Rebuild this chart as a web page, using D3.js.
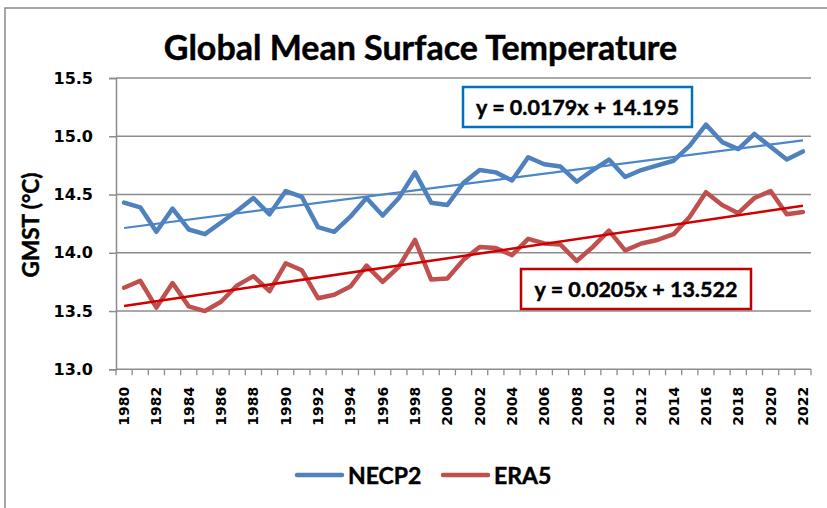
<!DOCTYPE html>
<html>
<head>
<meta charset="utf-8">
<script src="https://cdn.jsdelivr.net/npm/d3@7"></script>
<style>
  body { margin: 0; background: #fff; }
  text { font-family: Lato, "Open Sans", sans-serif; font-weight: bold; fill: #000; }
  text.heavy { stroke: #000; stroke-width: 0.45px; }
  text.num { font-family: "DejaVu Sans", sans-serif; font-weight: bold; }
</style>
</head>
<body>
<svg id="chart" width="827" height="508"></svg>
<script>
// Annual global mean surface temperature (°C), two reanalyses
const years = d3.range(1980, 2023);
const necp2 = [14.43, 14.39, 14.18, 14.38, 14.20, 14.16, 14.26, 14.36, 14.47, 14.33,
               14.53, 14.48, 14.22, 14.18, 14.31, 14.47, 14.32, 14.47, 14.69, 14.43,
               14.41, 14.60, 14.71, 14.69, 14.62, 14.82, 14.76, 14.74, 14.61, 14.71,
               14.80, 14.65, 14.71, 14.75, 14.79, 14.92, 15.10, 14.95, 14.89, 15.02,
               14.91, 14.80, 14.87];
const era5  = [13.70, 13.76, 13.53, 13.74, 13.54, 13.50, 13.58, 13.72, 13.80, 13.67,
               13.91, 13.85, 13.61, 13.64, 13.71, 13.89, 13.75, 13.88, 14.11, 13.77,
               13.78, 13.94, 14.05, 14.04, 13.98, 14.12, 14.08, 14.07, 13.93, 14.05,
               14.19, 14.02, 14.08, 14.11, 14.16, 14.31, 14.52, 14.41, 14.34, 14.47,
               14.53, 14.33, 14.35];
const seriesNames = ["NECP2", "ERA5"];
// Linear trend y = slope * x + intercept, x = 1 for the first year
const trendSlopes = [0.0179, 0.0205];
const trendIntercepts = [14.195, 13.522];
const trendLabels = ["y = 0.0179x + 14.195", "y = 0.0205x + 13.522"];
const yTicks = [13.0, 13.5, 14.0, 14.5, 15.0, 15.5];
const xTickYears = years.filter(y => y % 2 === 0);

const lineColors = ["#4F81BD", "#C0504D"];
const trendColors = ["#4A86C8", "#D00000"];
const boxColors = ["#0070C0", "#C00000"];
const gridColor = "#8C8C8C";

const svg = d3.select("#chart");

// outer chart frame
svg.append("rect")
  .attr("x", 5).attr("y", 8).attr("width", 840).attr("height", 520)
  .attr("fill", "#fff").attr("stroke", "#8A8A8A").attr("stroke-width", 1.5);

const plot = { left: 116, right: 811, top: 78, bottom: 369.3 };

const x = d3.scaleBand().domain(years).range([plot.left, plot.right]).padding(0);
const y = d3.scaleLinear().domain([13, 15.5]).range([plot.bottom, plot.top]);
const cx = yr => x(yr) + x.bandwidth() / 2;

// horizontal gridlines
svg.append("g").selectAll("line").data(yTicks.slice(1)).join("line")
  .attr("x1", plot.left).attr("x2", plot.right)
  .attr("y1", d => y(d)).attr("y2", d => y(d))
  .attr("stroke", gridColor).attr("stroke-width", 1.5);

// y axis
const yAxis = svg.append("g").attr("transform", `translate(${plot.left},0)`)
  .call(d3.axisLeft(y).tickValues(yTicks).tickFormat(d3.format(".1f")).tickSize(7).tickPadding(16));
yAxis.select(".domain").attr("stroke", gridColor).attr("stroke-width", 1.5);
yAxis.selectAll(".tick line").attr("stroke", gridColor).attr("stroke-width", 1.5);
yAxis.selectAll(".tick text").attr("class", "num")
  .attr("font-size", 16).attr("font-family", null).attr("fill", "#000");

// x axis: ticks sit on category boundaries
const xAxisG = svg.append("g").attr("transform", `translate(0,${plot.bottom})`);
xAxisG.append("line").attr("x1", plot.left).attr("x2", plot.right)
  .attr("stroke", gridColor).attr("stroke-width", 1.5);
const boundaries = years.map(yr => x(yr)).concat([plot.right]);
xAxisG.selectAll("line.tk").data(boundaries).join("line").attr("class", "tk")
  .attr("x1", d => d).attr("x2", d => d).attr("y1", 0).attr("y2", 6)
  .attr("stroke", gridColor).attr("stroke-width", 1.3);
xAxisG.selectAll("text").data(xTickYears).join("text")
  .attr("class", "num")
  .attr("transform", d => `translate(${cx(d) + 5},17.5) rotate(-90)`)
  .attr("text-anchor", "end")
  .attr("font-size", 14)
  .text(d => d);

// data lines
const seriesData = [necp2, era5];
const line = d3.line().x((d, i) => cx(years[i])).y(d => y(d));
seriesData.forEach((vals, s) => {
  svg.append("path").datum(vals)
    .attr("d", line)
    .attr("fill", "none").attr("stroke", lineColors[s])
    .attr("stroke-width", 4.5).attr("stroke-linejoin", "round").attr("stroke-linecap", "round");
});

// trend lines
seriesData.forEach((vals, s) => {
  const pts = [0, years.length - 1].map(i => [cx(years[i]), y(trendSlopes[s] * (i + 1) + trendIntercepts[s])]);
  svg.append("path").attr("d", d3.line()(pts))
    .attr("fill", "none").attr("stroke", trendColors[s]).attr("stroke-width", s === 0 ? 2.2 : 2.5);
});

// trend equation boxes
const eqBoxes = [
  { x: 463, y: 87, w: 229, h: 40 },
  { x: 521, y: 269, w: 230, h: 40 }
];
eqBoxes.forEach((b, s) => {
  svg.append("rect").attr("x", b.x).attr("y", b.y).attr("width", b.w).attr("height", b.h)
    .attr("fill", "#fff").attr("stroke", boxColors[s]).attr("stroke-width", 2.5);
  svg.append("text").attr("class", "heavy")
    .attr("x", b.x + b.w / 2).attr("y", b.y + 28)
    .attr("text-anchor", "middle").attr("font-size", 21.5).text(trendLabels[s]);
});

// title
svg.append("text").attr("class", "heavy")
  .attr("x", 420.5).attr("y", 60).attr("text-anchor", "middle")
  .attr("font-size", 34).text("Global Mean Surface Temperature");

// y axis label
svg.append("text").attr("class", "heavy")
  .attr("transform", "translate(39,225) rotate(-90)")
  .attr("text-anchor", "middle").attr("font-size", 22.5).text("GMST (°C)");

// legend
const legendX = [297, 443];
seriesNames.forEach((name, s) => {
  svg.append("line").attr("x1", legendX[s]).attr("x2", legendX[s] + 45)
    .attr("y1", 475).attr("y2", 475)
    .attr("stroke", lineColors[s]).attr("stroke-width", 4.5).attr("stroke-linecap", "round");
  svg.append("text").attr("class", "heavy")
    .attr("x", legendX[s] + 51).attr("y", 483.5)
    .attr("font-size", 23).text(name);
});
</script>
</body>
</html>
